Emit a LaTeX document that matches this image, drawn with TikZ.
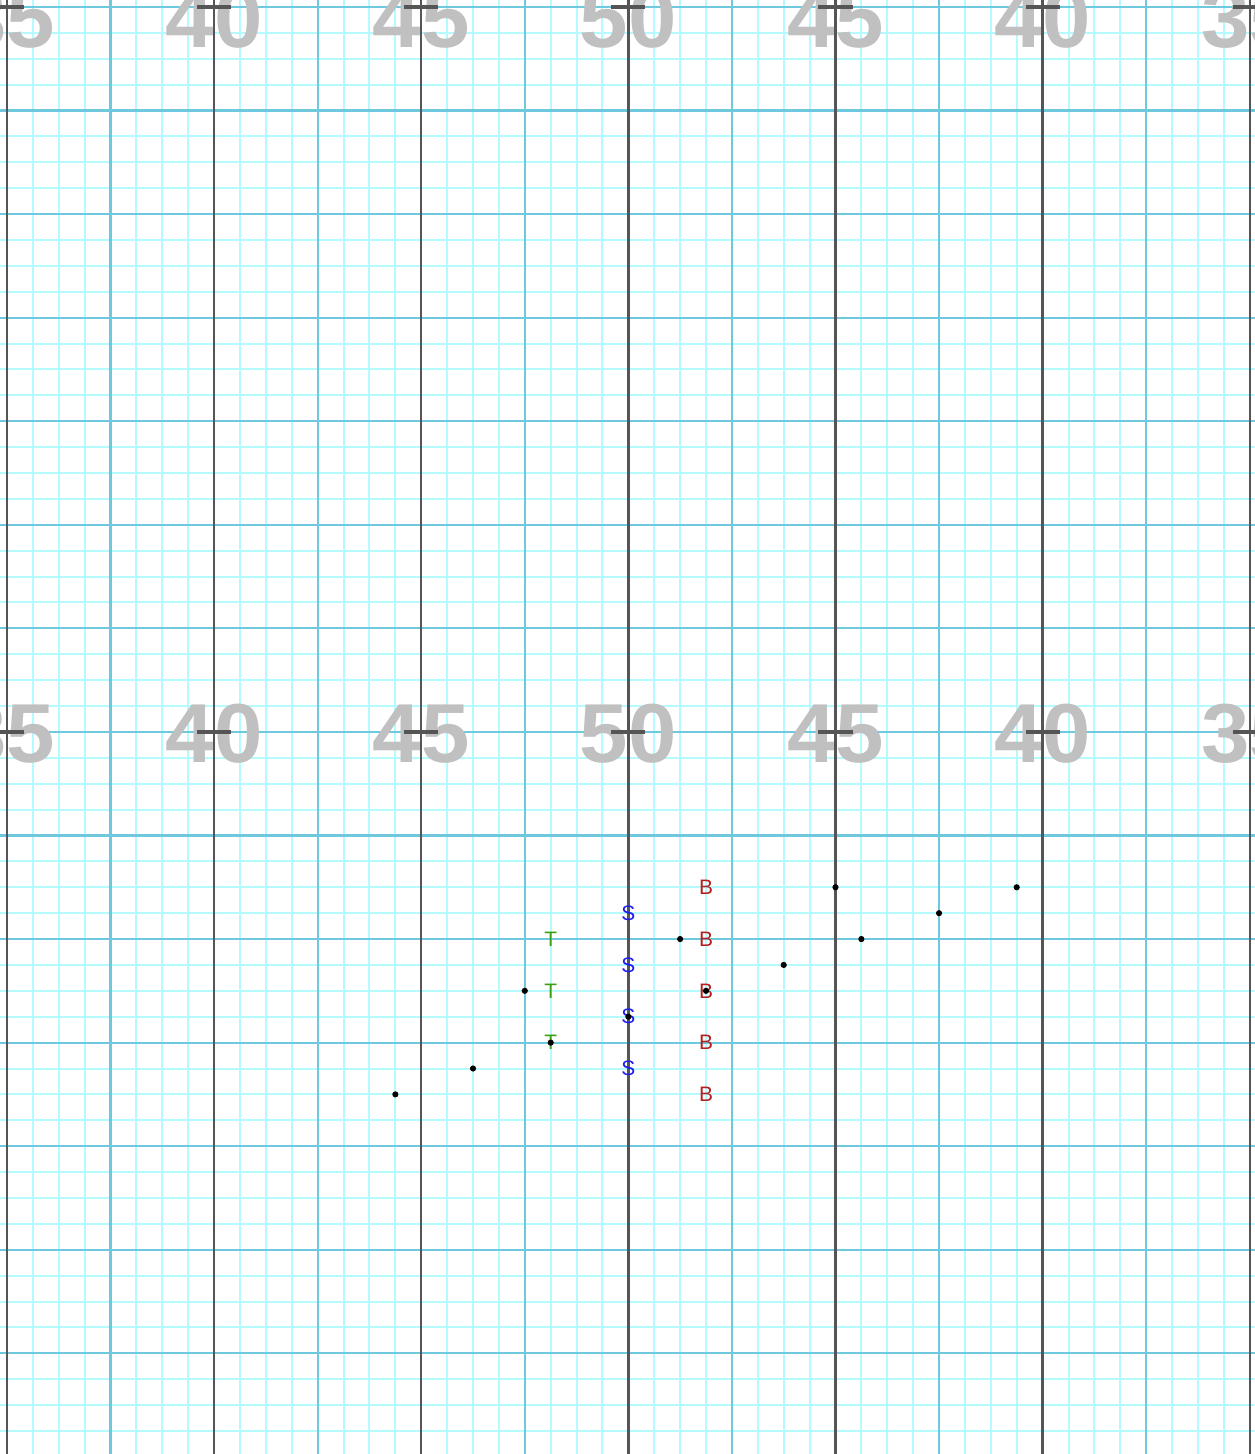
\documentclass[tikz,border=0pt]{standalone}
\usepackage{fontspec}
\setmainfont{Liberation Sans}
\usepackage{tikz}
\usetikzlibrary{positioning}
\definecolor{GridFine}{RGB}{180,250,255}
\definecolor{GridMid}{RGB}{110,200,222}
\definecolor{GridMajor}{RGB}{85,85,85}
\definecolor{ScaleGray}{RGB}{192,192,192}
\definecolor{TGreen}{RGB}{60,160,20}
\definecolor{SBlue}{RGB}{30,30,240}
\definecolor{BRed}{RGB}{180,30,30}

\begin{document}
\begin{tikzpicture}[x=0.5cm, y=-0.5cm,
    fine/.style={GridFine, line width=1.1pt},
    mid/.style={GridMid, line width=1.2pt},
    major/.style={GridMajor, line width=1.3pt},
    tickmark/.style={GridMajor, line width=1.9pt},
    scalelbl/.style={font=\fontsize{46}{46}\selectfont\bfseries,
                     text=ScaleGray, inner sep=0pt, xscale=1.04},
    letr/.style={font=\fontsize{11.5}{11.5}\selectfont, inner sep=0pt},
    dot/.style={circle, fill=black, inner sep=0pt, minimum size=3.4pt}
  ]
  \useasboundingbox (-0.27,-0.27) rectangle (48.2,55.89);

  % Grid
  \foreach \i in {0,...,48} \draw[fine] (\i,-0.27) -- (\i,55.89);
  \foreach \j in {0,...,55} \draw[fine] (-0.27,\j) -- (48.2,\j);
  \foreach \i in {0,4,...,48} \draw[mid] (\i,-0.27) -- (\i,55.89);
  \foreach \j in {0,4,...,52} \draw[mid] (-0.27,\j) -- (48.2,\j);

  % Scale labels
  \foreach \x/\v in {0/35, 8/40, 16/45, 24/50, 32/45, 40/40, 48/35}{
    \node[scalelbl] (top\x) at (\x,0.46) {\v};
    \node[scalelbl] (mid\x) at (\x,28.08) {\v};
  }
  \foreach \i in {0,8,...,48}{
    \draw[major] (\i,-0.27) -- (\i,55.89);
    \foreach \j in {0,28} \draw[tickmark] (\i-0.66,\j) -- (\i+0.66,\j);
  }

  % Letters
  \foreach \y [count=\k] in {36,38,40}
    \node[letr, text=TGreen] (t\k) at (21,\y) {T};
  \foreach \y [count=\k] in {35,37,39,41}
    \node[letr, text=SBlue] (s\k) at (24,\y) {S};
  \foreach \y [count=\k] in {34,36,38,40,42}
    \node[letr, text=BRed] (b\k) at (27,\y) {B};

  % Points
  \foreach \x/\y [count=\k] in {32/34, 39/34, 36/35, 33/36, 30/37, 26/36,
                                20/38, 21/40, 18/41, 15/42, 24/39, 27/38}
    \node[dot] (p\k) at (\x,\y) {};
\end{tikzpicture}
\end{document}
